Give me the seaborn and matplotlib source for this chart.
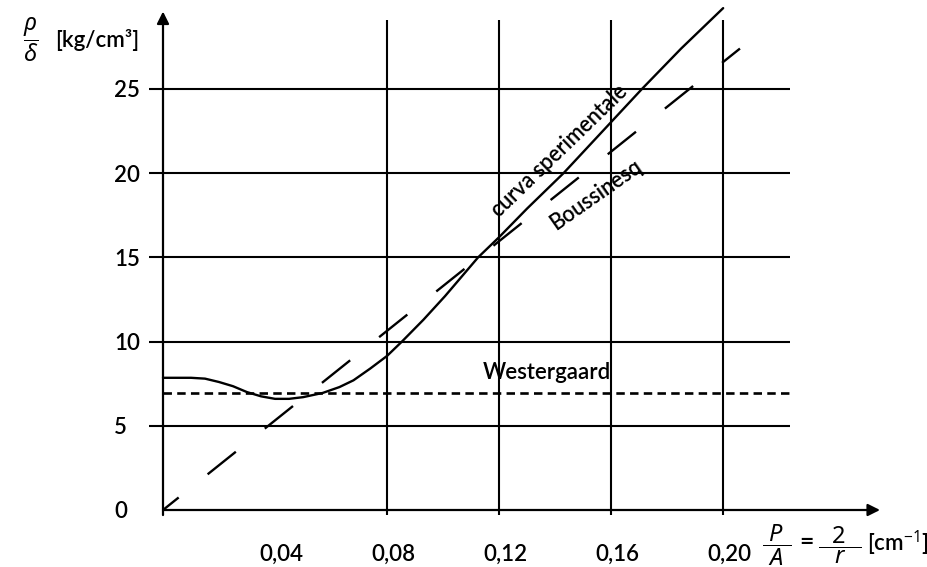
import numpy as np
import pandas as pd
import matplotlib
matplotlib.use("Agg")
import matplotlib.pyplot as plt
import matplotlib.transforms as mtransforms
import seaborn as sns

# ---- data ----
exp_x = [0, 0.01, 0.015, 0.02, 0.025, 0.03, 0.035, 0.04, 0.045, 0.05, 0.057, 0.063,
         0.068, 0.074, 0.08, 0.0853, 0.093, 0.1007, 0.1125, 0.12, 0.13, 0.143,
         0.157, 0.171, 0.185, 0.2]
exp_y = [7.85, 7.85, 7.8, 7.6, 7.35, 7.0, 6.75, 6.6, 6.6, 6.7, 6.95, 7.3,
         7.7, 8.4, 9.15, 10.0, 11.3, 12.7, 15.0, 16.2, 17.9, 20.0,
         22.5, 25.0, 27.4, 29.8]
bous_x = [0.0, 0.206]
bous_y = [0.0, 27.4]
west_x = [0.0, 0.224]
west_y = [6.95, 6.95]

x_ticks = [0.04, 0.08, 0.12, 0.16, 0.20]
x_ticklabels = ["0,04", "0,08", "0,12", "0,16", "0,20"]
y_ticks = [0, 5, 10, 15, 20, 25]
y_ticklabels = ["0", "5", "10", "15", "20", "25"]
v_grid = [0.08, 0.12, 0.16, 0.20]
h_grid = [5, 10, 15, 20, 25]

sns.set_theme(style="white")
plt.rcParams["font.family"] = ["Lato", "DejaVu Sans"]
plt.rcParams["font.weight"] = "semibold"
plt.rcParams["mathtext.fontset"] = "custom"
plt.rcParams["mathtext.rm"] = "Noto Sans"
plt.rcParams["mathtext.it"] = "Noto Sans:italic"
plt.rcParams["mathtext.bf"] = "Noto Sans:bold"

W, H = 928, 567
fig = plt.figure(figsize=(W / 100, H / 100), dpi=100)
ax_left, ax_right = 163, 880
ax_bottom_px, ax_top_px = 510, 1.4
ax = fig.add_axes([ax_left / W, (H - ax_bottom_px) / H,
                   (ax_right - ax_left) / W, (ax_bottom_px - ax_top_px) / H])
ax.set_xlim(0, 0.256)
ax.set_ylim(0, 30.2)
for s in ax.spines.values():
    s.set_visible(False)

lw_grid = 1.5
ax.hlines(h_grid, -0.005, 0.224, color="black", lw=lw_grid, clip_on=False)
ax.vlines(v_grid, -0.3, 29.1, color="black", lw=lw_grid, clip_on=False)

# axes with arrows
ax.annotate("", xy=(0, 29.6), xytext=(0, -0.3), xycoords="data",
            arrowprops=dict(arrowstyle="-|>", lw=1.6, color="black",
                            mutation_scale=18, shrinkA=0, shrinkB=0),
            annotation_clip=False)
ax.annotate("", xy=(0.256, 0), xytext=(0, 0), xycoords="data",
            arrowprops=dict(arrowstyle="-|>", lw=1.6, color="black",
                            mutation_scale=18, shrinkA=0, shrinkB=0),
            annotation_clip=False)

df_exp = pd.DataFrame({"x": exp_x, "y": exp_y})
df_bous = pd.DataFrame({"x": bous_x, "y": bous_y})
df_west = pd.DataFrame({"x": west_x, "y": west_y})

sns.lineplot(data=df_exp, x="x", y="y", ax=ax, color="black", lw=1.7,
             sort=False, clip_on=False)
sns.lineplot(data=df_bous, x="x", y="y", ax=ax, color="black", lw=1.7,
             linestyle=(6.8, (15.3, 15.7)), clip_on=False)
sns.lineplot(data=df_west, x="x", y="y", ax=ax, color="black", lw=1.9,
             linestyle=(0, (3.2, 2.0)), clip_on=False)

ax.set_xticks(x_ticks)
ax.set_xticklabels(x_ticklabels)
ax.set_yticks(y_ticks)
ax.set_yticklabels(y_ticklabels)
ax.tick_params(axis="both", length=0, labelsize=16, labelcolor="black")
ax.tick_params(axis="x", pad=24)
ax.tick_params(axis="y", pad=35)
for t in ax.get_yticklabels():
    t.set_horizontalalignment("left")
shift = mtransforms.ScaledTranslation(6 / 100, 0, fig.dpi_scale_trans)
for t in ax.get_xticklabels():
    t.set_transform(t.get_transform() + shift)
ax.set_xlabel("")
ax.set_ylabel("")

ax.text(0.1140, 7.75, "Westergaard", fontsize=16, ha="left", va="baseline",
        color="black")
ax.text(0.1415, 21.3, "curva sperimentale", fontsize=15.5, ha="center",
        va="center", rotation=44, rotation_mode="anchor", color="black")
ax.text(0.1545, 18.7, "Boussinesq", fontsize=15.5, ha="center", va="center",
        rotation=35, rotation_mode="anchor", color="black")

fig.text(31 / W, 1 - 40 / H, r"$\dfrac{\rho}{\delta}$", fontsize=17,
         ha="center", va="center", color="black")
fig.text(55 / W, 1 - 40 / H, "[kg/cm³]", fontsize=16,
         ha="left", va="center", color="black")
fig.text(777 / W, 1 - 545 / H, r"$\dfrac{\ P\ }{A}$",
         fontsize=17, ha="center", va="center", color="black")
fig.text(806 / W, 1 - 541 / H, "=",
         fontsize=18, ha="center", va="center", color="black")
fig.text(840 / W, 1 - 545 / H, r"$\dfrac{\ \ 2\ \ }{r}$",
         fontsize=17, ha="center", va="center", color="black")
fig.text(867 / W, 1 - 543 / H, r"[cm$^{-1}$]",
         fontsize=16, ha="left", va="center", color="black")

fig.savefig("out.png", dpi=100)
